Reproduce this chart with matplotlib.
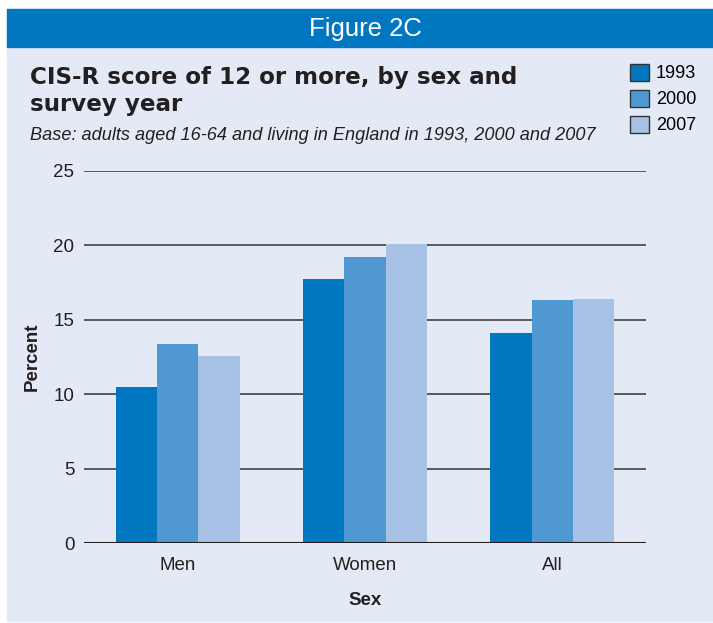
import numpy as np
import matplotlib.pyplot as plt
from matplotlib.patches import Rectangle, Patch

plt.rcParams['font.family'] = ['Liberation Sans', 'DejaVu Sans']

categories = ['Men', 'Women', 'All']
years = ['1993', '2000', '2007']
v1993 = [10.5, 17.7, 14.1]
v2000 = [13.4, 19.2, 16.3]
v2007 = [12.6, 20.1, 16.4]
series = [v1993, v2000, v2007]
colors = ['#0077C0', '#4F98D2', '#A7C2E5']

panel_bg = '#E3EAF6'
header_bg = '#0077C0'
ink = '#231F20'

W, H = 713, 623
fig = plt.figure(figsize=(W / 100, H / 100), dpi=100)
fig.patch.set_facecolor('white')

# background panel + header band
fig.patches.append(Rectangle((7 / W, 2 / H), 1 - 7 / W, 1 - 11 / H,
                             transform=fig.transFigure, color=panel_bg, zorder=-10))
fig.patches.append(Rectangle((7 / W, 1 - 47 / H), 1 - 7 / W, 38 / H,
                             transform=fig.transFigure, color=header_bg, zorder=-9))
fig.text(365 / W, 1 - 29 / H, 'Figure 2C', color='white', fontsize=18.5,
         ha='center', va='center')

# title (two lines) and subtitle
fig.text(30 / W, 1 - 84 / H, 'CIS-R score of 12 or more, by sex and',
         fontsize=16.6, fontweight='bold', color=ink, ha='left', va='baseline',
         family='DejaVu Sans')
fig.text(30 / W, 1 - 111 / H, 'survey year',
         fontsize=16.6, fontweight='bold', color=ink, ha='left', va='baseline',
         family='DejaVu Sans')
fig.text(30 / W, 1 - 140 / H,
         'Base: adults aged 16-64 and living in England in 1993, 2000 and 2007',
         fontsize=13.1, style='italic', color=ink, ha='left', va='baseline')

ax = fig.add_axes([84 / W, (H - 543.3) / H, 562 / W, (543.3 - 170.7) / H])
ax.patch.set_alpha(0)

x = np.arange(len(categories))
bw = 0.221
for i, (vals, c) in enumerate(zip(series, colors)):
    ax.bar(x + (i - 1) * bw, vals, bw, color=c, zorder=3, linewidth=0)

ax.set_xlim(-0.5, 2.5)
ax.set_ylim(0, 25)
ax.set_yticks([0, 5, 10, 15, 20, 25])
for yv in [5, 10, 15, 20, 25]:
    ax.axhline(yv, color='#4D4D4F', lw=1.3, zorder=1)
ax.axhline(0, color=ink, lw=1.5, zorder=4)

for s in ax.spines.values():
    s.set_visible(False)
ax.tick_params(axis='both', length=0, labelsize=13.5, colors=ink)
ax.tick_params(axis='y', pad=7)
ax.tick_params(axis='x', pad=10)
ax.set_xticks(x)
ax.set_xticklabels(categories)

ax.set_ylabel('Percent', fontsize=13.5, fontweight='bold', color=ink, labelpad=9)
ax.set_xlabel('Sex', fontsize=13.5, fontweight='bold', color=ink, labelpad=13)

handles = [Patch(facecolor=c, edgecolor='#333333', linewidth=1) for c in colors]
fig.legend(handles, years, loc='upper left', bbox_to_anchor=(626 / W, 1 - 60 / H),
           frameon=False, fontsize=13, handlelength=1.1, handleheight=1.1,
           labelspacing=0.4, handletextpad=0.35, borderaxespad=0, borderpad=0.2)

fig.savefig('out.png', dpi=100, facecolor=fig.get_facecolor())
